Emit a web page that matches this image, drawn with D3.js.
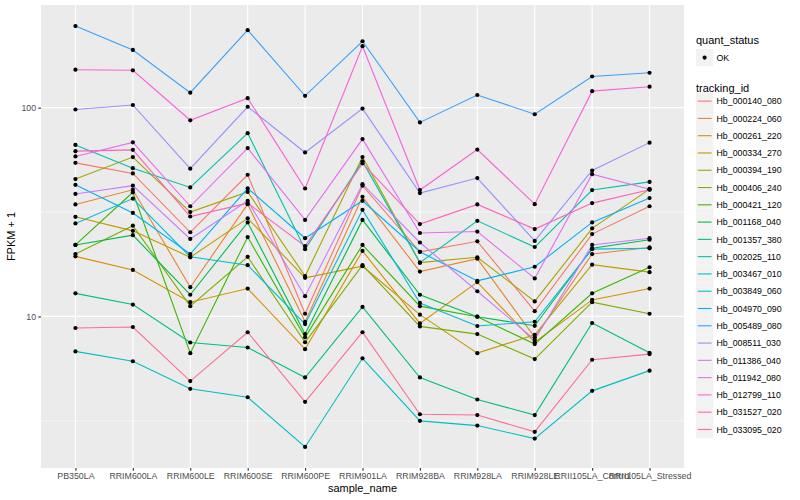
<!DOCTYPE html>
<html><head><meta charset="utf-8">
<script src="https://cdn.jsdelivr.net/npm/d3@7"></script>
<style>body{margin:0;background:#fff}svg{display:block}text{font-family:"Liberation Sans",Arial,sans-serif}</style>
</head><body><svg id="c" width="800" height="500"></svg>
<script>
const samples = ["PB350LA","RRIM600LA","RRIM600LE","RRIM600SE","RRIM600PE","RRIM901LA","RRIM928BA","RRIM928LA","RRIM928LE","RRII105LA_Control","RRII105LA_Stressed"];
const trackingIds = ["Hb_000140_080","Hb_000224_060","Hb_000261_220","Hb_000334_270","Hb_000394_190","Hb_000406_240","Hb_000421_120","Hb_001168_040","Hb_001357_380","Hb_002025_110","Hb_003467_010","Hb_003849_060","Hb_004970_090","Hb_005489_080","Hb_008511_030","Hb_011386_040","Hb_011942_080","Hb_012799_110","Hb_031527_020","Hb_033095_020"];
const colors = ["#F8766D","#EA8331","#D89000","#C09B00","#A3A500","#7CAE00","#39B600","#00BB4E","#00BF7D","#00C1A3","#00BFC4","#00BAE0","#00B0F6","#35A2FF","#9590FF","#C77CFF","#E76BF3","#FA62DB","#FF62BC","#FF6C91"];
// FPKM + 1 values per tracking id, in sample order
const Hb_000140_080 = [54.4,48.4,25.3,47.7,10.3,42.3,20.4,22.9,10.6,24.8,33.7];
const Hb_000224_060 = [34.4,40.4,13.8,34.5,9.43,37.4,16.4,18.9,7.94,19.9,21.4];
const Hb_000261_220 = [19.4,16.7,11.7,13.6,6.97,20.6,9.26,14.6,7.52,12.0,13.6];
const Hb_000334_270 = [30.0,25.7,19.2,29.5,15.3,17.4,10.2,6.67,8.17,17.7,16.3];
const Hb_000394_190 = [45.5,58.0,31.6,39.5,15.6,58.0,18.1,19.2,11.8,26.4,40.7];
const Hb_000406_240 = [19.9,27.2,11.2,19.3,7.52,17.6,8.96,8.23,6.25,11.7,10.3];
const Hb_000421_120 = [22.0,39.3,6.67,24.0,7.94,22.0,11.2,9.97,7.37,12.9,17.2];
const Hb_001168_040 = [22.0,24.5,12.7,28.2,8.23,29.0,12.7,9.97,9.02,21.2,23.3];
const Hb_001357_380 = [12.9,11.4,7.5,7.1,5.1,11.1,5.1,4.0,3.37,9.3,6.7];
const Hb_002025_110 = [66.3,51.3,41.5,75.5,21.0,55.3,18.1,28.7,21.5,40.3,44.1];
const Hb_003467_010 = [6.8,6.1,4.5,4.1,2.37,6.3,3.16,3.0,2.6,4.4,5.5];
const Hb_003849_060 = [27.9,36.7,19.3,17.6,9.19,32.4,11.6,9.0,9.43,21.0,21.2];
const Hb_004970_090 = [42.7,31.3,19.9,41.1,23.7,35.8,20.4,14.8,17.3,28.2,36.9];
const Hb_005489_080 = [246,189,118,235,114,208,85,115,93,141,147];
const Hb_008511_030 = [98,103,51,101,61,99,39,46,23,50,68];
const Hb_011386_040 = [38.6,42.3,23.5,35.8,12.5,43.0,22.6,13.2,7.73,22.0,23.7];
const Hb_011942_080 = [58.4,68.2,33.7,64.0,29.0,70.7,25.1,25.5,15.2,48.0,40.7];
const Hb_012799_110 = [152,151,87,111,41,197,40.3,63,34.5,120,126];
const Hb_031527_020 = [61.9,62.8,30.1,34.9,21.7,54.1,27.7,34.4,26.2,34.9,40.4];
const Hb_033095_020 = [8.8,8.9,4.9,8.4,3.9,8.4,3.4,3.37,2.8,6.2,6.6];
const seriesValues = [Hb_000140_080,Hb_000224_060,Hb_000261_220,Hb_000334_270,Hb_000394_190,Hb_000406_240,Hb_000421_120,Hb_001168_040,Hb_001357_380,Hb_002025_110,Hb_003467_010,Hb_003849_060,Hb_004970_090,Hb_005489_080,Hb_008511_030,Hb_011386_040,Hb_011942_080,Hb_012799_110,Hb_031527_020,Hb_033095_020];
const yTicks = [10,100];
const yTickLabels = ["10","100"];

const svg = d3.select("#c");
const P = {l:41, r:684, t:5, b:468};
const all = seriesValues.flat();
const lmin = Math.log10(d3.min(all)), lmax = Math.log10(d3.max(all));
const ex = (lmax-lmin)*0.05;
const y = d3.scaleLog().domain([10**(lmin-ex), 10**(lmax+ex)]).range([P.b, P.t]);
const x = d3.scalePoint().domain(samples).range([P.l, P.r]).padding(0.6);

svg.append("rect").attr("x",P.l).attr("y",P.t).attr("width",P.r-P.l).attr("height",P.b-P.t).attr("fill","#EBEBEB");
const minor = [];
for (let e=-1;e<4;e++){const v=10**(e+0.5); if(v>y.domain()[0]&&v<y.domain()[1]) minor.push(v);}
svg.selectAll(".gmin").data(minor).join("line").attr("x1",P.l).attr("x2",P.r).attr("y1",d=>y(d)).attr("y2",d=>y(d)).attr("stroke","#fff").attr("stroke-width",0.55);
svg.selectAll(".gy").data(yTicks).join("line").attr("x1",P.l).attr("x2",P.r).attr("y1",d=>y(d)).attr("y2",d=>y(d)).attr("stroke","#fff").attr("stroke-width",1.1);
svg.selectAll(".gx").data(samples).join("line").attr("x1",d=>x(d)).attr("x2",d=>x(d)).attr("y1",P.t).attr("y2",P.b).attr("stroke","#fff").attr("stroke-width",1.1);

const line = d3.line().x((d,i)=>x(samples[i])).y(d=>y(d));
const g = svg.append("g");
seriesValues.forEach((vals,k)=>{
  g.append("path").attr("d",line(vals)).attr("fill","none").attr("stroke",colors[k]).attr("stroke-width",1.1);
});
seriesValues.forEach((vals,k)=>{
  g.selectAll(null).data(vals).join("circle").attr("cx",(d,i)=>x(samples[i])).attr("cy",d=>y(d)).attr("r",2.1).attr("fill","#000");
});

const ya = svg.append("g").attr("transform",`translate(${P.l},0)`)
  .call(d3.axisLeft(y).tickValues(yTicks).tickFormat((d,i)=>yTickLabels[i]).tickSize(2.7).tickPadding(2.2));
const xa = svg.append("g").attr("transform",`translate(0,${P.b})`)
  .call(d3.axisBottom(x).tickSize(2.7).tickPadding(2.2));
[ya,xa].forEach(a=>{a.select(".domain").remove(); a.selectAll(".tick line").attr("stroke","#333").attr("stroke-width",1.1);
  a.selectAll("text").attr("fill","#4D4D4D").style("font-size","8.8px");});

svg.append("text").attr("x",(P.l+P.r)/2).attr("y",492).attr("text-anchor","middle").style("font-size","11px").text("sample_name");
svg.append("text").attr("transform",`translate(15,${(P.t+P.b)/2}) rotate(-90)`).attr("text-anchor","middle").style("font-size","11px").text("FPKM + 1");

const L = svg.append("g");
L.append("text").attr("x",696).attr("y",44).style("font-size","11px").text("quant_status");
L.append("rect").attr("x",696).attr("y",49).attr("width",17.3).attr("height",17.3).attr("fill","#F2F2F2");
L.append("circle").attr("cx",704.6).attr("cy",57.6).attr("r",2.1).attr("fill","#000");
L.append("text").attr("x",716.5).attr("y",60.8).style("font-size","8.8px").text("OK");
L.append("text").attr("x",696).attr("y",92).style("font-size","11px").text("tracking_id");
trackingIds.forEach((id,k)=>{
  const yy = 92.5 + k*17.28;
  L.append("rect").attr("x",696).attr("y",yy).attr("width",17.3).attr("height",17.3).attr("fill","#F2F2F2");
  L.append("line").attr("x1",697.7).attr("x2",711.6).attr("y1",yy+8.64).attr("y2",yy+8.64).attr("stroke",colors[k]).attr("stroke-width",1.1);
  L.append("text").attr("x",716.5).attr("y",yy+11.8).style("font-size","8.8px").text(id);
});
</script></body></html>
